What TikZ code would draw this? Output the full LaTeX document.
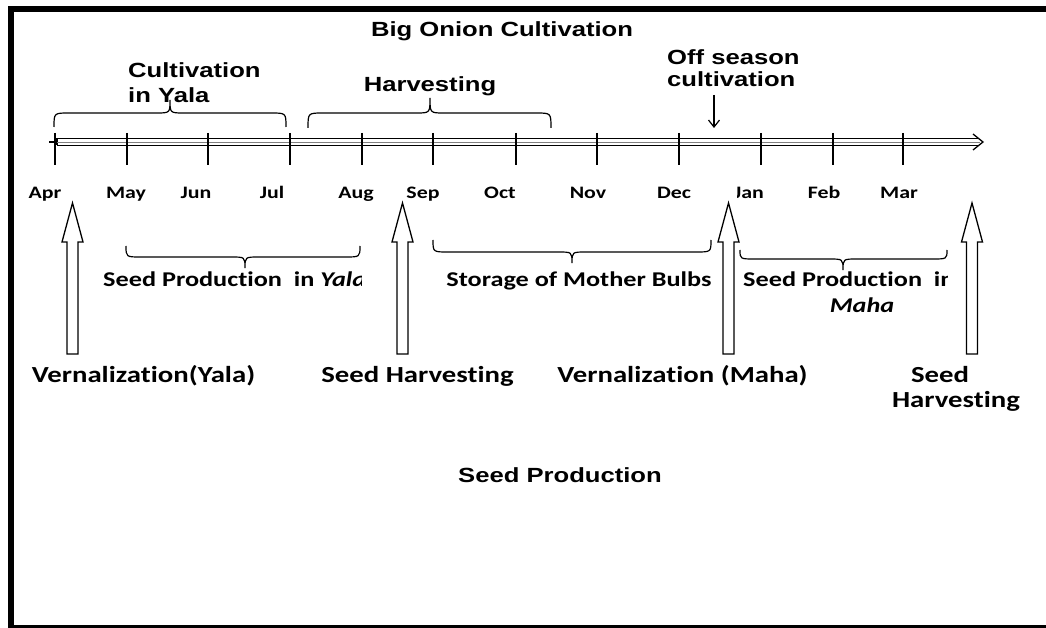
\documentclass[tikz,border=0pt]{standalone}
\usepackage{fontspec}
\usetikzlibrary{arrows.meta}
\newfontfamily\arialf[FakeStretch=1.25]{Liberation Sans}
\newfontfamily\calf[FakeStretch=1.25,Ligatures=CommonOff]{Carlito}
\newcommand\curlybr[6]{% x1 xm x2 yend yflat ytip
  \draw[bracestyle] (#1,#4) .. controls (#1,#5) .. ({#1+15},#5) -- ({#2-14},#5)
    .. controls (#2,#5) .. (#2,#6) .. controls (#2,#5) .. ({#2+14},#5)
    -- ({#3-15},#5) .. controls (#3,#5) .. (#3,#4);}
\tikzset{
 ariallbl/.style={font=\arialf\bfseries\fontsize{20.5}{25}\selectfont, inner sep=0pt, anchor=base},
 monthlbl/.style={font=\calf\bfseries\fontsize{17.5}{20}\selectfont, inner sep=0pt, anchor=base},
 midlbl/.style={font=\calf\bfseries\fontsize{21}{26}\selectfont, inner sep=0pt, anchor=base},
 biglbl/.style={font=\calf\bfseries\fontsize{23}{25}\selectfont, inner sep=0pt, anchor=base},
 monthtick/.style={line width=1.6pt},
 bracestyle/.style={line width=1.2pt},
 hollowup/.pic={\draw[line width=1.3pt, fill=white, line join=miter]
   (-5.5,0) -- (-5.5,-112) -- (-10.5,-112) -- (0,-151) -- (10.5,-112) -- (5.5,-112) -- (5.5,0) -- cycle;},
}
\begin{document}
\begin{tikzpicture}[x=1pt,y=-1pt]
\useasboundingbox (0,0) rectangle (1046,628);
% frame
\fill (8,6) rectangle (14,628);
\fill (8,6) rectangle (1046,12);
\draw[line width=2.5pt] (14,626.5) -- (1046,626.5);

% title
\node[ariallbl] (title) at (502,37) {Big Onion Cultivation};

% timeline
\coordinate (tlL) at (57,142);
\coordinate (tlR) at (983,142);
\draw[line width=1.3pt] (49,142) -- (55,142);
\draw[line width=1.2pt] (57,138.5) -- (978,138.5) (57,145.5) -- (978,145.5) (57,138.5) -- (57,145.5);
\draw[line width=0.8pt, gray] (tlL) -- (980,142);
\draw[line width=1.3pt] (973,134) -- (tlR) -- (973,150);

% ticks
\foreach \x in {55,127,208,290,362,433,516,597,679,761,833,903}
  \draw[monthtick] (\x,133) -- (\x,165);

% month labels
\foreach \x/\m/\n in {45/Apr/m1,126/May/m2,196/Jun/m3,272/Jul/m4,356/Aug/m5,423/Sep/m6,500/Oct/m7,588/Nov/m8,674/Dec/m9,824/Feb/m11,899/Mar/m12}
  \node[monthlbl] (\n) at (\x,199) {\m};
\begin{scope}
  \clip (737.5,170) rectangle (800,215);
  \node[monthlbl] (m10) at (749,199) {Jan};
\end{scope}

% upper labels and braces
\node[ariallbl, anchor=base west, align=left] (cyala) at (128,103) {Cultivation\\in Yala};
\curlybr{54}{170}{286}{127}{113}{100}
\node[ariallbl] (harv) at (430,92) {Harvesting};
\curlybr{308}{430}{551}{128}{113}{98}
\node[ariallbl, anchor=base west, align=left, font=\arialf\bfseries\fontsize{20.5}{21.5}\selectfont] (offs) at (667,86.5) {Off season\\cultivation};
\coordinate (offa) at (714,95);
\coordinate (offb) at (714,128);
\draw[line width=1.2pt, -{Straight Barb[length=7pt,width=11pt]}] (offa) -- (offb);

% lower braces and labels
\curlybr{126}{245}{360}{246}{257}{268}
\begin{scope}
  \clip (90,260) rectangle (361,300);
  \node[midlbl, anchor=base west] (spyala) at (103,286) {Seed Production\ \ in \textit{Yala}};
\end{scope}
\curlybr{433}{572}{711}{240}{252}{263}
\node[midlbl] (store) at (579,286) {Storage of Mother Bulbs};
\curlybr{740}{843}{947}{250}{259}{270}
\begin{scope}
  \clip (730,260) rectangle (947,300);
  \node[midlbl, anchor=base west] (spmaha) at (743,286) {Seed Production\ \ in};
\end{scope}
\node[midlbl] (maha) at (862,312) {\textit{Maha}};

% hollow arrows
\pic (a1) at (72.5,354) {hollowup};
\pic (a2) at (402.5,354) {hollowup};
\pic (a3) at (728.5,354) {hollowup};
\pic (a4) at (972,354) {hollowup};

% arrow labels
\node[biglbl] (vy) at (143.5,382) {Vernalization(Yala)};
\node[biglbl] (sh1) at (417.5,382) {Seed Harvesting};
\node[biglbl] (vm) at (682.5,382) {Vernalization (Maha)};
\node[biglbl, align=center] (sh2) at (956,407) {Seed\hspace*{32pt}\\Harvesting};

% bottom
\node[ariallbl] (sprod) at (560,482) {Seed Production};
\end{tikzpicture}
\end{document}
